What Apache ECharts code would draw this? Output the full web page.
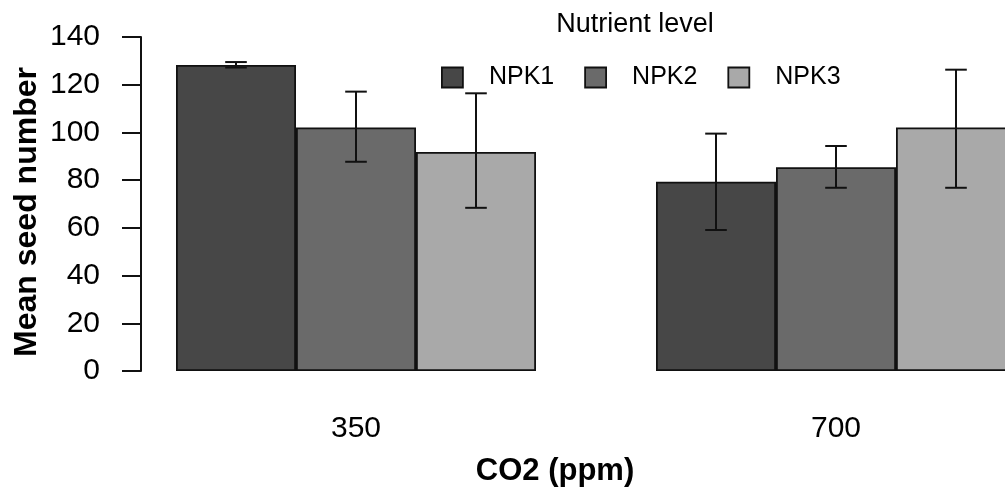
<!DOCTYPE html>
<html>
<head>
<meta charset="utf-8">
<script src="https://cdn.jsdelivr.net/npm/echarts@6/dist/echarts.min.js"></script>
<style>
  html, body { margin: 0; padding: 0; background: #fff; }
  #chart { width: 1005px; height: 491px; }
</style>
</head>
<body>
<div id="chart"></div>
<script>
// CO2 treatment groups and nutrient levels
const categories = ['350', '700'];
const seriesNames = ['NPK1', 'NPK2', 'NPK3'];

// Mean seed number per group
const npk1 = [128.3, 79.3];
const npk2 = [102.1, 85.4];
const npk3 = [91.8, 102.1];

// Error bar limits (lower / upper)
const npk1Low = [127.2, 59.1];
const npk1High = [129.5, 99.5];
const npk2Low = [87.7, 76.8];
const npk2High = [117.1, 94.3];
const npk3Low = [68.4, 76.8];
const npk3High = [116.4, 126.3];

const yMin = 0, yMax = 140, yStep = 20;

const colors = ['#474747', '#6a6a6a', '#a9a9a9'];
const FONT = 'Liberation Sans, Arial, sans-serif';

const means = [npk1, npk2, npk3];
const lows = [npk1Low, npk2Low, npk3Low];
const highs = [npk1High, npk2High, npk3High];

// rows: [categoryIndex, low, high, seriesIndex]
const errorRows = [];
for (let s = 0; s < 3; s++) {
  for (let c = 0; c < categories.length; c++) {
    errorRows.push([c, lows[s][c], highs[s][c], s]);
  }
}

function renderErrorBar(params, api) {
  const cat = api.value(0);
  const lo = api.value(1);
  const hi = api.value(2);
  const idx = api.value(3);
  const band = api.size([1, 0])[0];
  const barW = band * 0.25;
  const pLo = api.coord([cat, lo]);
  const pHi = api.coord([cat, hi]);
  const x = pLo[0] + (idx - 1) * barW;
  const half = barW * 0.09;
  const style = { stroke: '#111', lineWidth: 2 };
  return {
    type: 'group',
    children: [
      { type: 'line', shape: { x1: x, y1: pLo[1], x2: x, y2: pHi[1] }, style },
      { type: 'line', shape: { x1: x - half, y1: pLo[1], x2: x + half, y2: pLo[1] }, style },
      { type: 'line', shape: { x1: x - half, y1: pHi[1], x2: x + half, y2: pHi[1] }, style }
    ]
  };
}

const chart = echarts.init(document.getElementById('chart'));

const barSeries = seriesNames.map((name, i) => ({
  name,
  type: 'bar',
  data: means[i],
  barWidth: '25%',
  barGap: '0%',
  itemStyle: { color: colors[i], borderColor: '#111', borderWidth: 1.8 },
  emphasis: { disabled: true },
  animation: false
}));

chart.setOption({
  animation: false,
  textStyle: { fontFamily: FONT, color: '#000' },
  // the plot area runs past the right edge, so the last bar is cut off
  grid: { left: 116, top: 37, width: 960, height: 334, outerBoundsMode: 'none', containLabel: false },
  legend: {
    data: seriesNames,
    left: 441,
    top: 65,
    padding: 0,
    itemWidth: 21,
    itemHeight: 20,
    itemGap: 30,
    icon: 'rect',
    itemStyle: { borderColor: '#111', borderWidth: 1.8 },
    textStyle: { fontFamily: FONT, fontSize: 25, color: '#000', padding: [0, 0, 0, 21] },
    selectedMode: false
  },
  xAxis: {
    type: 'category',
    data: categories,
    axisLine: { show: false },
    axisTick: { show: false },
    axisLabel: { fontFamily: FONT, fontSize: 30, color: '#000', margin: 43 }
  },
  yAxis: {
    type: 'value',
    min: yMin,
    max: yMax,
    interval: yStep,
    offset: -25,
    splitLine: { show: false },
    axisLine: { show: true, lineStyle: { color: '#111', width: 2 } },
    axisTick: { show: true, length: 19, lineStyle: { color: '#111', width: 2 } },
    axisLabel: { fontFamily: FONT, fontSize: 30, color: '#000', margin: 41 }
  },
  graphic: [
    {
      type: 'text',
      x: 635, y: 25,
      style: { text: 'Nutrient level', fontFamily: FONT, fontSize: 27, fill: '#000', textAlign: 'center', textVerticalAlign: 'middle' }
    },
    {
      type: 'text',
      x: 555, y: 471,
      style: { text: 'CO2 (ppm)', fontFamily: FONT, fontSize: 31, fontWeight: 'bold', fill: '#000', textAlign: 'center', textVerticalAlign: 'middle' }
    },
    {
      type: 'text',
      x: 27, y: 212,
      rotation: Math.PI / 2,
      style: { text: 'Mean seed number', fontFamily: FONT, fontSize: 32, fontWeight: 'bold', fill: '#000', textAlign: 'center', textVerticalAlign: 'middle' }
    }
  ],
  series: [
    ...barSeries,
    {
      type: 'custom',
      renderItem: renderErrorBar,
      data: errorRows,
      encode: { x: 0, y: [1, 2] },
      z: 5,
      silent: true,
      animation: false
    }
  ]
});
</script>
</body>
</html>
